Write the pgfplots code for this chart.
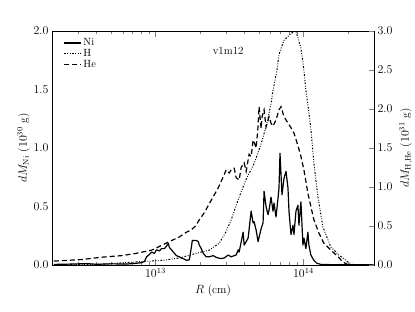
\documentclass[border=0pt]{standalone}
\usepackage{pgfplots}
\pgfplotsset{compat=1.18}
\begin{document}
\begin{tikzpicture}
\useasboundingbox (-52bp,-47bp) rectangle (363bp,265bp);
\begin{axis}[
  at={(0,0)}, anchor=south west,
  scale only axis, width=322bp, height=234bp,
  xmode=log, xmin=2e12, xmax=3e14,
  ymin=0, ymax=2,
  xtick={1e13,1e14},
  minor xtick={3e12,4e12,5e12,6e12,7e12,8e12,9e12,2e13,3e13,4e13,5e13,6e13,7e13,8e13,9e13,2e14,3e14},
  ytick={0,0.5,1,1.5,2},
  y tick label style={/pgf/number format/fixed,/pgf/number format/fixed zerofill,/pgf/number format/precision=1},
  tick align=inside,
  ytick pos=left,
  xtick pos=both,
  ytick style={draw=none},
  major tick length=6bp, minor tick length=3bp,
  tick label style={font=\fontsize{12}{14}\selectfont},
  label style={font=\fontsize{11.5}{13}\selectfont},
  xlabel={$R$ (cm)},
  ylabel={$dM_{\rm Ni}$ ($10^{30}$ g)},
  ylabel style={xshift=0bp, yshift=-3bp},
  axis line style={line width=0.8bp},
]
\addplot[black, line width=1.2bp, line join=round] coordinates {
(2.056e12,0.005) (2.718e12,0.008) (3.431e12,0.012) (4.006e12,0.006) (5.055e12,0.010) (6.379e12,0.008)
(7.45e12,0.015) (8.05e12,0.02) (8.432e12,0.03) (8.70e12,0.07) (9.112e12,0.09) (9.40e12,0.11)
(9.846e12,0.10) (1.016e13,0.13) (1.064e13,0.12) (1.098e13,0.14) (1.150e13,0.14) (1.186e13,0.16)
(1.223e13,0.185) (1.242e13,0.15) (1.282e13,0.13) (1.322e13,0.11) (1.385e13,0.08) (1.451e13,0.07)
(1.496e13,0.06) (1.568e13,0.05) (1.617e13,0.04) (1.694e13,0.045) (1.748e13,0.15) (1.775e13,0.21)
(1.888e13,0.21) (1.948e13,0.20) (1.978e13,0.17) (2.040e13,0.14) (2.104e13,0.10) (2.205e13,0.07)
(2.310e13,0.07) (2.458e13,0.08) (2.575e13,0.065) (2.656e13,0.06) (2.782e13,0.055) (2.914e13,0.06)
(3.102e13,0.085) (3.250e13,0.07) (3.404e13,0.08) (3.511e13,0.085) (3.622e13,0.13) (3.678e13,0.11)
(3.914e13,0.28) (3.976e13,0.17) (4.101e13,0.20) (4.230e13,0.23) (4.432e13,0.46) (4.571e13,0.36)
(4.642e13,0.37) (4.787e13,0.30) (4.938e13,0.20) (5.173e13,0.31) (5.337e13,0.36) (5.420e13,0.63)
(5.590e13,0.50) (5.768e13,0.43) (5.858e13,0.47) (6.040e13,0.58) (6.231e13,0.46) (6.328e13,0.53)
(6.528e13,0.41) (6.734e13,0.57) (6.839e13,0.66) (6.946e13,0.955) (7.164e13,0.60) (7.390e13,0.74)
(7.624e13,0.80) (7.864e13,0.66) (7.987e13,0.46) (8.239e13,0.26) (8.499e13,0.34) (8.632e13,0.26)
(8.904e13,0.46) (9.184e13,0.51) (9.327e13,0.34) (9.620e13,0.54) (9.923e13,0.17) (1.008e14,0.23)
(1.039e14,0.14) (1.072e14,0.28) (1.089e14,0.17) (1.123e14,0.085) (1.177e14,0.04) (1.233e14,0.015)
(1.312e14,0.005) (1.532e14,0.003) (2.089e14,0.002) (3.0e14,0.001)
};
\node[font=\fontsize{11}{13}\selectfont] at (rel axis cs:0.547,0.915) {v1m12};
\end{axis}
\begin{axis}[
  at={(0,0)}, anchor=south west,
  scale only axis, width=322bp, height=234bp,
  xmode=log, xmin=2e12, xmax=3e14,
  axis x line=none,
  axis y line*=right,
  ymin=0, ymax=3,
  ytick={0,0.5,1,1.5,2,2.5,3},
  y tick label style={/pgf/number format/fixed,/pgf/number format/fixed zerofill,/pgf/number format/precision=1},
  tick align=inside,
  major tick length=5bp,
  tick label style={font=\fontsize{12}{14}\selectfont},
  label style={font=\fontsize{11.5}{13}\selectfont},
  ylabel={$dM_{\rm H,He}$ ($10^{31}$ g)},
  axis line style={line width=0.8bp},
  legend style={at={(0.025,0.985)}, anchor=north west, draw=none, fill=none,
    font=\fontsize{10.5}{12}\selectfont, row sep=-2bp},
  legend cell align=left,
]
\addlegendimage{black, line width=1.2bp}
\addlegendentry{Ni}
\addplot[black, line width=1.0bp, dash pattern=on 1.8bp off 1.6bp on 0.8bp off 1.6bp on 0.8bp off 1.6bp] coordinates {
(2.056e12,0.005) (4.33e12,0.01) (7.45e12,0.04) (9.112e12,0.05) (1.132e13,0.06) (1.451e13,0.09)
(1.888e13,0.15) (2.310e13,0.19) (2.698e13,0.28) (3.007e13,0.43) (3.250e13,0.58) (3.678e13,0.87)
(4.101e13,1.10) (4.642e13,1.30) (5.173e13,1.55) (5.679e13,1.82) (6.040e13,2.07) (6.231e13,2.24)
(6.630e13,2.50) (6.839e13,2.70) (7.390e13,2.88) (8.239e13,2.97) (8.904e13,3.0) (9.620e13,2.78)
(1.008e14,2.50) (1.039e14,2.24) (1.072e14,2.05) (1.123e14,1.75) (1.177e14,1.30) (1.252e14,0.88)
(1.353e14,0.49) (1.532e14,0.23) (1.734e14,0.13) (1.994e14,0.04) (2.154e14,0.005) (3.0e14,0.0)
};
\addlegendentry{H}
\addplot[black, line width=1.2bp, dash pattern=on 5bp off 3bp] coordinates {
(2.056e12,0.05) (3.175e12,0.07) (4.33e12,0.10) (5.90e12,0.12) (7.45e12,0.15) (9.40e12,0.19)
(1.016e13,0.22) (1.242e13,0.30) (1.451e13,0.36) (1.617e13,0.42) (1.748e13,0.45) (1.888e13,0.51)
(1.948e13,0.56) (2.138e13,0.67) (2.382e13,0.83) (2.656e13,0.99) (2.871e13,1.13) (3.007e13,1.22)
(3.150e13,1.18) (3.250e13,1.22) (3.404e13,1.24) (3.511e13,1.12) (3.678e13,1.09) (3.795e13,1.25)
(3.976e13,1.31) (4.101e13,1.20) (4.295e13,1.42) (4.432e13,1.39) (4.571e13,1.60) (4.642e13,1.58)
(4.787e13,1.50) (4.916e13,1.73) (5.015e13,2.03) (5.173e13,1.75) (5.254e13,1.90) (5.420e13,1.99)
(5.590e13,1.77) (5.858e13,1.90) (6.040e13,1.82) (6.231e13,1.78) (6.528e13,1.86) (6.839e13,1.99)
(7.055e13,2.03) (7.390e13,1.90) (7.624e13,1.86) (7.864e13,1.82) (8.239e13,1.76) (8.632e13,1.69)
(9.184e13,1.53) (9.620e13,1.39) (1.008e14,1.22) (1.072e14,0.92) (1.123e14,0.75) (1.177e14,0.58)
(1.272e14,0.41) (1.374e14,0.28) (1.532e14,0.19) (1.707e14,0.11) (1.845e14,0.04) (1.994e14,0.005)
(3.0e14,0.0)
};
\addlegendentry{He}
\end{axis}
\end{tikzpicture}
\end{document}
